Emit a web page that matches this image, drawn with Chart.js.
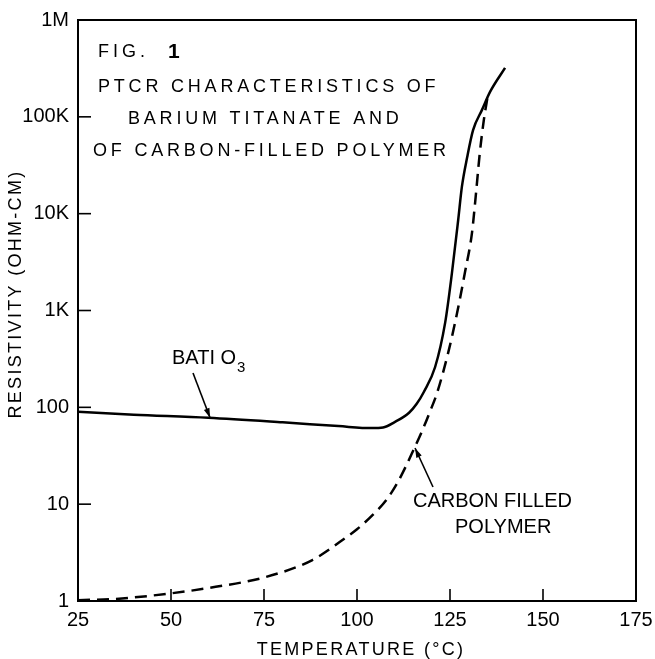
<!DOCTYPE html>
<html>
<head>
<meta charset="utf-8">
<script src="https://cdn.jsdelivr.net/npm/chart.js@4/dist/chart.umd.min.js"></script>
<style>
  html, body { margin: 0; padding: 0; background: #fff; }
  #wrap { width: 655px; height: 659px; }
</style>
</head>
<body>
<div id="wrap"><canvas id="grafica"></canvas></div>
<script>
// Datos
const tempBatio3 = [25, 40, 60, 80, 95, 104, 107, 110, 114, 116, 118, 121, 123.7, 125.5, 127.2, 128.2, 129.6, 131.2, 133.6, 135.8, 139.8];
const resBatio3  = [90, 84, 78, 70, 64, 61, 62, 70, 88, 108, 145, 261, 750, 2400, 8600, 19000, 38000, 73000, 118000, 182000, 320000];

const tempCarbon = [25, 35, 50, 62, 75, 88, 97.3, 100, 104.3, 108, 111, 113, 115, 117.5, 119.6, 121.5, 124.5, 126.9, 129, 130.9, 132, 133, 134.1, 135.2];
const resCarbon  = [1.02, 1.05, 1.2, 1.4, 1.75, 2.65, 4.6, 5.5, 7.8, 11.2, 17, 24, 35, 57, 90, 140, 365, 940, 2450, 6300, 16400, 42000, 93000, 170000];

const xTicks = [25, 50, 75, 100, 125, 150, 175];
const yTicks = [1, 10, 100, 1000, 10000, 100000, 1000000];
const yTickLabels = ['1', '10', '100', '1K', '10K', '100K', '1M'];

const fuente = '"Liberation Sans", Arial, sans-serif';

function puntos(xs, ys) {
    return xs.map(function(x, i) { return {x: x, y: ys[i]}; });
}

function flecha(ctx, x1, y1, x2, y2) {
    ctx.beginPath();
    ctx.moveTo(x1, y1);
    ctx.lineTo(x2, y2);
    ctx.stroke();
    const ang = Math.atan2(y2 - y1, x2 - x1);
    ctx.beginPath();
    ctx.moveTo(x2, y2);
    ctx.lineTo(x2 - 10 * Math.cos(ang - 0.3), y2 - 10 * Math.sin(ang - 0.3));
    ctx.lineTo(x2 - 10 * Math.cos(ang + 0.3), y2 - 10 * Math.sin(ang + 0.3));
    ctx.closePath();
    ctx.fill();
}

// Marco, ticks hacia adentro y textos
const marcoPlugin = {
    id: 'marco',
    afterDraw: function(chart) {
        const ctx = chart.ctx;
        const a = chart.chartArea;
        const xs = chart.scales.x;
        const ys = chart.scales.y;
        ctx.save();
        ctx.strokeStyle = '#000';
        ctx.fillStyle = '#000';
        ctx.lineWidth = 2;
        ctx.strokeRect(a.left, a.top, a.right - a.left, a.bottom - a.top);

        ctx.lineWidth = 1.6;
        xTicks.forEach(function(v) {
            const px = xs.getPixelForValue(v);
            ctx.beginPath();
            ctx.moveTo(px, a.bottom);
            ctx.lineTo(px, a.bottom - 12);
            ctx.stroke();
        });
        yTicks.forEach(function(v) {
            const py = ys.getPixelForValue(v);
            ctx.beginPath();
            ctx.moveTo(a.left, py);
            ctx.lineTo(a.left + 13, py);
            ctx.stroke();
        });

        // titulos de los ejes
        ctx.textBaseline = 'middle';
        ctx.textAlign = 'center';
        ctx.font = '18px ' + fuente;
        ctx.letterSpacing = '2.3px';
        ctx.fillText('TEMPERATURE (°C)', 361, 650);
        ctx.save();
        ctx.translate(16, 294);
        ctx.rotate(-Math.PI / 2);
        ctx.fillText('RESISTIVITY (OHM-CM)', 0, 0);
        ctx.restore();

        // titulo de la figura
        ctx.textAlign = 'left';
        ctx.font = '18px ' + fuente;
        ctx.letterSpacing = '4px';
        ctx.fillText('FIG.', 98, 52);
        ctx.font = 'bold 21px ' + fuente;
        ctx.fillText('1', 168, 52);
        ctx.font = '18px ' + fuente;
        ctx.letterSpacing = '3.8px';
        ctx.fillText('PTCR CHARACTERISTICS OF', 98, 87);
        ctx.fillText('BARIUM TITANATE AND', 128, 119);
        ctx.fillText('OF CARBON-FILLED POLYMER', 93, 151);

        // etiquetas de las curvas
        ctx.letterSpacing = '0px';
        ctx.font = '20px ' + fuente;
        ctx.fillText('BATI O', 172, 358);
        const w = ctx.measureText('BATI O').width;
        ctx.font = '15px ' + fuente;
        ctx.fillText('3', 172 + w + 1, 368);
        ctx.font = '20px ' + fuente;
        ctx.fillText('CARBON FILLED', 413, 501);
        ctx.fillText('POLYMER', 455, 527);

        ctx.lineWidth = 1.6;
        flecha(ctx, 193, 373, xs.getPixelForValue(60.5), ys.getPixelForValue(78));
        flecha(ctx, 433, 487, xs.getPixelForValue(115.6), ys.getPixelForValue(38));
        ctx.restore();
    }
};

const data = {
    datasets: [{
        label: 'BaTiO3',
        data: puntos(tempBatio3, resBatio3),
        borderColor: '#000',
        borderWidth: 2.5,
        pointRadius: 0,
        cubicInterpolationMode: 'monotone',
        fill: false
    }, {
        label: 'Carbon filled polymer',
        data: puntos(tempCarbon, resCarbon),
        borderColor: '#000',
        borderWidth: 2.5,
        borderDash: [12, 7],
        pointRadius: 0,
        cubicInterpolationMode: 'monotone',
        fill: false
    }]
};

const config = {
    type: 'line',
    data: data,
    plugins: [marcoPlugin],
    options: {
        responsive: true,
        maintainAspectRatio: false,
        animation: false,
        layout: { padding: { top: 20, right: 19, left: 0, bottom: 0 } },
        plugins: {
            legend: { display: false },
            tooltip: { enabled: false }
        },
        scales: {
            x: {
                type: 'linear',
                min: 25,
                max: 175,
                afterBuildTicks: function(scale) {
                    scale.ticks = xTicks.map(function(v) { return {value: v}; });
                },
                afterFit: function(scale) {
                    scale.height = 58;
                    scale.paddingLeft = 0;
                    scale.paddingRight = 0;
                },
                grid: { display: false, drawTicks: false },
                border: { display: false },
                ticks: {
                    color: '#000',
                    padding: 7,
                    maxRotation: 0,
                    font: { family: fuente, size: 20 }
                }
            },
            y: {
                type: 'logarithmic',
                min: 1,
                max: 1000000,
                afterBuildTicks: function(scale) {
                    scale.ticks = yTicks.map(function(v) { return {value: v}; });
                },
                afterFit: function(scale) {
                    scale.width = 78;
                    scale.paddingTop = 0;
                    scale.paddingBottom = 0;
                },
                grid: { display: false, drawTicks: false },
                border: { display: false },
                ticks: {
                    color: '#000',
                    padding: 9,
                    font: { family: fuente, size: 20 },
                    callback: function(value) {
                        const i = yTicks.indexOf(value);
                        return i >= 0 ? yTickLabels[i] : '';
                    }
                }
            }
        }
    }
};

const myChart = new Chart(document.getElementById('grafica'), config);
</script>
</body>
</html>
